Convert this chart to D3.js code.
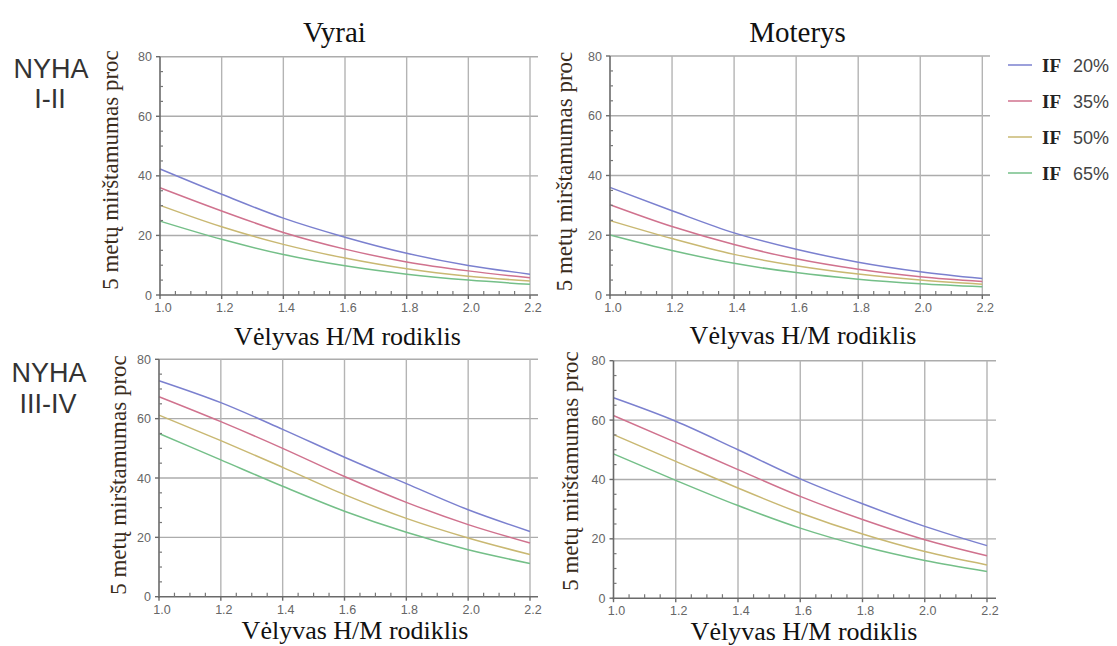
<!DOCTYPE html>
<html><head><meta charset="utf-8">
<script src="https://cdn.jsdelivr.net/npm/d3@7"></script>
<style>body{margin:0;background:#fff}svg{display:block}</style>
</head><body>
<svg id="c" width="1117" height="646"></svg>
<script>
// ---- data ----
const xValues = [1.0, 1.2, 1.4, 1.6, 1.8, 2.0, 2.2];
const seriesNames = ["20%", "35%", "50%", "65%"];
const xTickValues = [1.0, 1.2, 1.4, 1.6, 1.8, 2.0, 2.2];
const yTickValues = [0, 20, 40, 60, 80];
const colTitles = ["Vyrai", "Moterys"];
const rowTitles = [["NYHA", "I-II"], ["NYHA", "III-IV"]];
const xLabel = "Vėlyvas H/M rodiklis";
const yLabel = "5 metų mirštamumas proc";

// Vyrai, NYHA I-II  (IF 20, 35, 50, 65)
const vyraiNyhaI = [
  [42.3, 33.8, 25.8, 19.4, 14.0, 9.9, 7.0],
  [36.0, 28.2, 21.0, 15.4, 11.1, 8.1, 5.8],
  [30.1, 22.9, 17.0, 12.4, 8.8, 6.3, 4.7],
  [24.8, 18.7, 13.6, 9.8, 7.0, 5.0, 3.6]
];
// Moterys, NYHA I-II
const moterysNyhaI = [
  [36.0, 28.2, 20.8, 15.3, 11.0, 7.8, 5.5],
  [30.2, 22.9, 16.9, 12.1, 8.6, 6.1, 4.5],
  [24.9, 18.9, 13.6, 9.8, 7.0, 5.0, 3.6],
  [20.1, 14.9, 10.6, 7.5, 5.3, 3.8, 2.8]
];
// Vyrai, NYHA III-IV
const vyraiNyhaIII = [
  [72.8, 65.4, 56.4, 47.0, 38.1, 29.3, 22.0],
  [67.4, 59.0, 50.0, 40.5, 31.8, 24.3, 18.1],
  [61.2, 52.6, 43.6, 34.4, 26.4, 19.8, 14.2],
  [55.0, 46.1, 37.2, 28.8, 21.7, 15.8, 11.2]
];
// Moterys, NYHA III-IV
const moterysNyhaIII = [
  [67.5, 59.6, 50.0, 40.2, 31.8, 24.2, 17.7],
  [61.5, 52.5, 43.3, 34.3, 26.5, 19.7, 14.3],
  [55.1, 46.1, 37.1, 28.7, 21.6, 15.7, 11.2],
  [48.6, 39.7, 31.2, 23.6, 17.5, 12.7, 9.0]
];

// ---- layout / style ----
const colors = ["#7b80cf", "#d0728e", "#c9b872", "#74bf88"];
const serif = "'Liberation Serif','Times New Roman',serif";
const sans = "'Liberation Sans',Arial,sans-serif";

const panels = [
  {data: vyraiNyhaI,     x0: 160,   x1: 530,   xEnd: 538, yB: 295,   yT: 56.7,
   yl: [118, 170],  xl: [347.5, 345]},
  {data: moterysNyhaI,   x0: 610,   x1: 982.3, xEnd: 990, yB: 295,   yT: 56,
   yl: [572, 171.5], xl: [803, 344]},
  {data: vyraiNyhaIII,   x0: 159,   x1: 530,   xEnd: 538, yB: 596.7, yT: 359.3,
   yl: [126, 475],  xl: [355, 639]},
  {data: moterysNyhaIII, x0: 613.5, x1: 987,   xEnd: 996, yB: 598.2, yT: 360.7,
   yl: [578, 471],  xl: [804, 640]}
];

const svg = d3.select("#c");

panels.forEach(p => {
  const x = d3.scaleLinear().domain([1.0, 2.2]).range([p.x0, p.x1]);
  const y = d3.scaleLinear().domain([0, 80]).range([p.yB, p.yT]);
  const g = svg.append("g");

  // horizontal grid
  g.selectAll(".hg").data(yTickValues.filter(v => v > 0)).join("line")
    .attr("x1", p.x0).attr("x2", p.xEnd)
    .attr("y1", d => y(d)).attr("y2", d => y(d))
    .attr("stroke", "#acacac").attr("stroke-width", 1.4);
  // vertical grid
  g.selectAll(".vg").data(xTickValues.filter(v => v > 1.0)).join("line")
    .attr("x1", d => x(d)).attr("x2", d => x(d))
    .attr("y1", p.yT).attr("y2", p.yB)
    .attr("stroke", "#b4b4b4").attr("stroke-width", 1.4);

  // curves
  const line = d3.line().x((d, i) => x(xValues[i])).y(d => y(d)).curve(d3.curveMonotoneX);
  p.data.forEach((s, k) => {
    g.append("path").attr("d", line(s)).attr("fill", "none")
      .attr("stroke", colors[k]).attr("stroke-width", 1.5);
  });

  // axes lines
  g.append("line").attr("x1", p.x0).attr("x2", p.x0).attr("y1", p.yT).attr("y2", p.yB + 1)
    .attr("stroke", "#6a6a6a").attr("stroke-width", 1.6);
  g.append("line").attr("x1", p.x0 - 1).attr("x2", p.xEnd).attr("y1", p.yB).attr("y2", p.yB)
    .attr("stroke", "#6a6a6a").attr("stroke-width", 1.6);

  // minor ticks
  const yMinor = d3.range(5, 80, 5).filter(v => v % 20 !== 0);
  g.selectAll(".ym").data(yMinor).join("line")
    .attr("x1", p.x0).attr("x2", p.x0 + 3)
    .attr("y1", d => y(d)).attr("y2", d => y(d))
    .attr("stroke", "#777").attr("stroke-width", 1.2);
  const xMinor = d3.range(1.05, 2.2, 0.05).filter(v => Math.abs(Math.round(v * 5) - v * 5) > 0.01);
  g.selectAll(".xm").data(xMinor).join("line")
    .attr("x1", d => x(d)).attr("x2", d => x(d))
    .attr("y1", p.yB).attr("y2", p.yB - 4)
    .attr("stroke", "#777").attr("stroke-width", 1.2);
  // major ticks
  g.selectAll(".yM").data(yTickValues).join("line")
    .attr("x1", p.x0 - 4).attr("x2", p.x0)
    .attr("y1", d => y(d)).attr("y2", d => y(d))
    .attr("stroke", "#6a6a6a").attr("stroke-width", 1.4);
  g.selectAll(".xM").data(xTickValues).join("line")
    .attr("x1", d => x(d)).attr("x2", d => x(d))
    .attr("y1", p.yB).attr("y2", p.yB + 4)
    .attr("stroke", "#6a6a6a").attr("stroke-width", 1.4);

  // tick labels
  g.selectAll(".yt").data(yTickValues).join("text")
    .attr("x", p.x0 - 8).attr("y", d => y(d) + 4.5)
    .attr("text-anchor", "end").attr("font-family", sans).attr("font-size", 12.5)
    .attr("fill", "#666").text(d => d);
  g.selectAll(".xt").data(xTickValues).join("text")
    .attr("x", d => x(d) + 3).attr("y", p.yB + 17)
    .attr("text-anchor", "middle").attr("font-family", sans).attr("font-size", 12.5)
    .attr("fill", "#666").text(d => d3.format(".1f")(d));

  // axis labels
  g.append("text").attr("transform", `translate(${p.yl[0]},${p.yl[1]}) rotate(-90)`)
    .attr("text-anchor", "middle").attr("font-family", serif).attr("font-size", 23)
    .attr("fill", "#3a2c1c").text(yLabel);
  g.append("text").attr("x", p.xl[0]).attr("y", p.xl[1])
    .attr("text-anchor", "middle").attr("font-family", serif).attr("font-size", 26)
    .attr("fill", "#111").text(xLabel);
});

// column titles
[[334.5, 41.5], [797.6, 41.5]].forEach((pos, i) => {
  svg.append("text").attr("x", pos[0]).attr("y", pos[1]).attr("text-anchor", "middle")
    .attr("font-family", serif).attr("font-size", 29).attr("fill", "#111").text(colTitles[i]);
});

// row titles
[[[51, 78], [50, 108]], [[49, 382], [48, 413]]].forEach((pp, r) => {
  pp.forEach((pos, j) => {
    svg.append("text").attr("x", pos[0]).attr("y", pos[1]).attr("text-anchor", "middle")
      .attr("font-family", sans).attr("font-size", 27).attr("fill", "#333").text(rowTitles[r][j]);
  });
});

// legend
const legY = d3.scalePoint().domain(seriesNames).range([65, 173]);
const leg = svg.append("g");
seriesNames.forEach((n, k) => {
  const yy = legY(n);
  leg.append("line").attr("x1", 1008).attr("x2", 1032).attr("y1", yy).attr("y2", yy)
    .attr("stroke", colors[k]).attr("stroke-width", 1.5);
  leg.append("text").attr("x", 1042).attr("y", yy + 6.5).attr("font-family", serif)
    .attr("font-weight", "bold").attr("font-size", 19).attr("fill", "#222").text("IF");
  leg.append("text").attr("x", 1073).attr("y", yy + 6.5).attr("font-family", sans)
    .attr("font-size", 18).attr("fill", "#444").text(n);
});
</script>
</body></html>
